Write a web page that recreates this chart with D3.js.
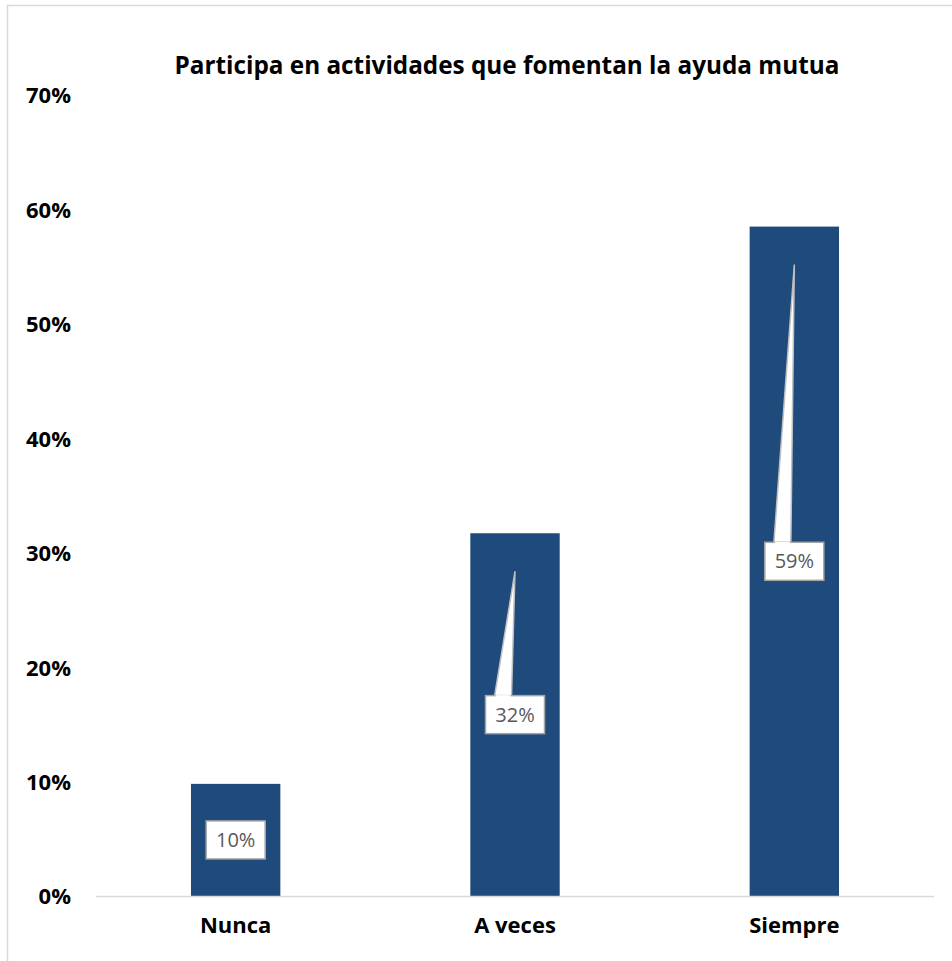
<!DOCTYPE html>
<html>
<head>
<meta charset="utf-8">
<script src="https://cdn.jsdelivr.net/npm/d3@7"></script>
<style>
  body { margin: 0; background: #fff; }
  text { font-family: "Open Sans", sans-serif; }
</style>
</head>
<body>
<svg id="chart"></svg>
<script>
// Chart data
const categories = ["Nunca", "A veces", "Siempre"];
const values = [0.098, 0.317, 0.585];
const valueLabels = ["10%", "32%", "59%"];
const yTicks = [0, 0.1, 0.2, 0.3, 0.4, 0.5, 0.6, 0.7];
const hasLeader = [false, true, true];
const title = "Participa en actividades que fomentan la ayuda mutua";

const width = 952;
const height = 961;
const plot = { left: 96, right: 934, top: 95, bottom: 896 };

const svg = d3.select("#chart")
    .attr("width", width)
    .attr("height", height);

// outer chart border
svg.append("rect")
    .attr("x", 7.5)
    .attr("y", 5.5)
    .attr("width", 980)
    .attr("height", 990)
    .attr("fill", "#fff")
    .attr("stroke", "#d9d9d9")
    .attr("stroke-width", 1.5);

const x = d3.scaleBand()
    .domain(categories)
    .range([plot.left, plot.right])
    .paddingInner(0.68)
    .paddingOuter(0.34);

const y = d3.scaleLinear()
    .domain([0, 0.7])
    .range([plot.bottom, plot.top]);

// title
svg.append("text")
    .attr("x", 507)
    .attr("y", 74)
    .attr("text-anchor", "middle")
    .attr("font-size", "24.3px")
    .attr("font-weight", "bold")
    .attr("fill", "#000")
    .text(title);

// y axis labels (no line)
const yAxis = d3.axisLeft(y)
    .tickValues(yTicks)
    .tickFormat(d3.format(".0%"))
    .tickSize(0)
    .tickPadding(0);

svg.append("g")
    .attr("transform", "translate(71,0)")
    .call(yAxis)
    .call(g => g.select(".domain").remove())
    .selectAll("text")
    .attr("font-family", "'Open Sans', sans-serif")
    .attr("font-size", "22px")
    .attr("font-weight", "bold")
    .attr("fill", "#000")
    .attr("dy", "0.36em");

// bars
svg.append("g")
    .selectAll("rect")
    .data(values)
    .join("rect")
    .attr("x", (d, i) => x(categories[i]))
    .attr("y", d => y(d))
    .attr("width", x.bandwidth())
    .attr("height", d => y(0) - y(d))
    .attr("fill", "#1f4a7c");

// baseline
svg.append("line")
    .attr("x1", plot.left)
    .attr("x2", plot.right)
    .attr("y1", y(0) + 0.5)
    .attr("y2", y(0) + 0.5)
    .attr("stroke", "#d9d9d9")
    .attr("stroke-width", 1.5);

// x axis labels
const xAxis = d3.axisBottom(x).tickSize(0).tickPadding(0);
svg.append("g")
    .attr("transform", `translate(0,${y(0)})`)
    .call(xAxis)
    .call(g => g.select(".domain").remove())
    .selectAll("text")
    .attr("font-family", "'Open Sans', sans-serif")
    .attr("font-size", "22px")
    .attr("font-weight", "bold")
    .attr("fill", "#000")
    .attr("dy", "1.7em");

// data label callouts
const boxW = 59, boxH = 38;
const labels = svg.append("g")
    .selectAll("g")
    .data(values)
    .join("g");

labels.each(function(d, i) {
    const g = d3.select(this);
    const cx = x(categories[i]) + x.bandwidth() / 2;
    const cy = y(d / 2);
    const bx = cx - boxW / 2;
    const by = cy - boxH / 2;
    if (hasLeader[i]) {
        const tipY = y(d) + 38;
        g.append("path")
            .attr("d", `M${bx + 9},${by + 1} L${cx},${tipY} L${bx + 26},${by + 1} Z`)
            .attr("fill", "#fff")
            .attr("stroke", "#bfbfbf")
            .attr("stroke-width", 1.5);
    }
    g.append("rect")
        .attr("x", bx)
        .attr("y", by)
        .attr("width", boxW)
        .attr("height", boxH)
        .attr("fill", "#fff")
        .attr("stroke", "#a6a6a6")
        .attr("stroke-width", 1.5);
    if (hasLeader[i]) {
        // hide the seam between wedge and box
        g.append("rect")
            .attr("x", bx + 10)
            .attr("y", by - 0.5)
            .attr("width", 15)
            .attr("height", 2)
            .attr("fill", "#fff");
    }
    g.append("text")
        .attr("x", cx)
        .attr("y", cy)
        .attr("dy", "0.36em")
        .attr("text-anchor", "middle")
        .attr("font-size", "20px")
        .attr("fill", "#595959")
        .text(valueLabels[i]);
});
</script>
</body>
</html>
